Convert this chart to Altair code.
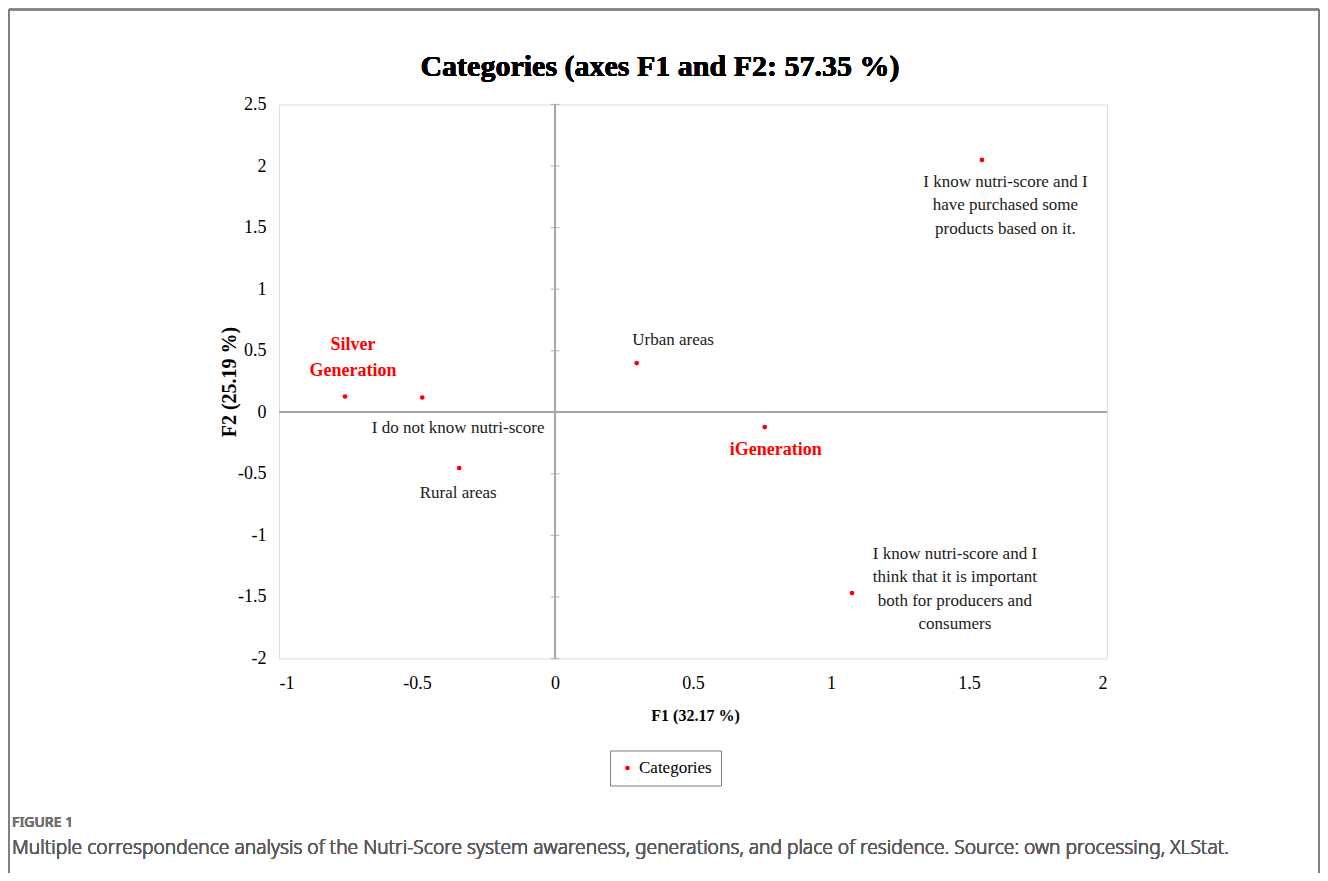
import altair as alt
import pandas as pd

# ---- data ----
categories = [
    "Silver Generation",
    "I do not know nutri-score",
    "Rural areas",
    "Urban areas",
    "iGeneration",
    "I know nutri-score and I have purchased some products based on it.",
    "I know nutri-score and I think that  it is important both for producers and consumers",
]
f1 = [-0.761, -0.481, -0.347, 0.296, 0.760, 1.547, 1.076]
f2 = [0.128, 0.120, -0.453, 0.400, -0.120, 2.050, -1.468]

# label texts (as wrapped in the picture) and the position of their first line (data units)
generation_labels = ["Silver\nGeneration", "iGeneration"]
generation_lx = [-0.732, 0.800]
generation_ly = [0.548, -0.304]

other_labels = [
    "I do not know nutri-score",
    "Rural areas",
    "Urban areas",
    "I know nutri-score and I\nhave purchased some\nproducts based on it.",
    "I know nutri-score and I\nthink that  it is important\nboth for producers and\nconsumers",
]
other_lx = [-0.351, -0.351, 0.428, 1.632, 1.449]
other_ly = [-0.126, -0.653, 0.588, 1.871, -1.149]

x_ticks = [-1, -0.5, 0, 0.5, 1, 1.5, 2]
y_ticks = [-2, -1.5, -1, -0.5, 0, 0.5, 1, 1.5, 2, 2.5]

title_text = "Categories (axes F1 and F2: 57.35 %)"
x_title = "F1 (32.17 %)"
y_title = "F2 (25.19 %)"
caption_head = "FIGURE 1"
caption_text = ("Multiple correspondence analysis of the Nutri-Score system awareness, "
                "generations, and place of residence. Source: own processing, XLStat.")

SERIF = "Liberation Serif"
W, H = 828, 554

pts = pd.DataFrame({"category": categories, "F1": f1, "F2": f2,
                    "series": ["Categories"] * len(categories)})
gen_df = pd.DataFrame({"label": generation_labels, "x": generation_lx, "y": generation_ly})
oth_df = pd.DataFrame({"label": other_labels, "x": other_lx, "y": other_ly})
yt_df = pd.DataFrame({"v": y_ticks})

xscale = alt.Scale(domain=[-1, 2], nice=False, zero=False)
yscale = alt.Scale(domain=[-2, 2.5], nice=False, zero=False)

xaxis = alt.Axis(values=x_ticks, labelExpr="'' + datum.value", grid=False, ticks=False,
                 domain=False, labelFont=SERIF, labelFontSize=18, labelColor="black",
                 labelPadding=16, title=x_title, titleFont=SERIF, titleFontSize=16,
                 titleFontWeight="bold", titleColor="black", titleX=416, titleY=57,
                 titleBaseline="middle", titleAnchor="start", titleAlign="center")
yaxis = alt.Axis(values=y_ticks, labelExpr="'' + datum.value", grid=False, ticks=False,
                 domain=False, labelFont=SERIF, labelFontSize=18, labelColor="black",
                 labelPadding=13, title=y_title, titleFont=SERIF, titleFontSize=20,
                 titleFontWeight="bold", titleColor="black", titleX=-50, titleY=277,
                 titleBaseline="middle", titleAngle=270, titleAnchor="start", titleAlign="center")

base = alt.Chart(pts)

points = base.mark_circle(size=22, opacity=1).encode(
    x=alt.X("F1:Q", scale=xscale, axis=xaxis),
    y=alt.Y("F2:Q", scale=yscale, axis=yaxis),
    color=alt.Color("series:N", scale=alt.Scale(range=["#ff0000"]),
                    legend=alt.Legend(title=None, orient="none", legendX=331, legendY=646,
                                      strokeColor="#7f7f7f", fillColor="white", padding=9,
                                      symbolType="circle", symbolSize=22, labelOffset=3,
                                      labelFont=SERIF, labelFontSize=17, labelColor="black")),
    tooltip=["category:N", "F1:Q", "F2:Q"],
)

vline = alt.Chart(pts).mark_rule(color="#a6a6a6", strokeWidth=1.5).encode(x=alt.datum(0))
hline = alt.Chart(pts).mark_rule(color="#a6a6a6", strokeWidth=1.5).encode(y=alt.datum(0))
vticks = alt.Chart(yt_df).mark_tick(orient="horizontal", size=9, thickness=1.2,
                                    color="#a6a6a6").encode(x=alt.datum(0), y=alt.Y("v:Q"))

gen_text = alt.Chart(gen_df).mark_text(font=SERIF, fontSize=18, fontWeight="bold",
                                       color="#ff0000", lineBreak="\n", lineHeight=26,
                                       align="center", baseline="middle").encode(
    x="x:Q", y="y:Q", text="label:N")
oth_text = alt.Chart(oth_df).mark_text(font=SERIF, fontSize=17, color="#1a1a1a",
                                       lineBreak="\n", lineHeight=23.5,
                                       align="center", baseline="middle").encode(
    x="x:Q", y="y:Q", text="label:N")

title = alt.Chart(pts).mark_text(text=title_text, font=SERIF, fontSize=30, fontWeight="bold",
                                 color="black", align="center", baseline="alphabetic").encode(
    x=alt.value(381), y=alt.value(-29))

cap1 = alt.Chart(pts).mark_text(text=caption_head, font="Noto Sans", fontSize=14,
                                fontWeight=500, color="#707070", align="left",
                                baseline="middle").encode(
    x=alt.value(-267), y=alt.value(718))
cap2 = alt.Chart(pts).mark_text(text=caption_text, font="Noto Sans", fontSize=19.2,
                                fontWeight=300, color="#5a5a5a", align="left",
                                baseline="middle").encode(
    x=alt.value(-267), y=alt.value(743))

frame_l = alt.Chart(pts).mark_rule(color="#808080", strokeWidth=1.5).encode(
    x=alt.value(-270), y=alt.value(-95), y2=alt.value(H + 215))
frame_t = alt.Chart(pts).mark_rule(color="#808080", strokeWidth=1.5).encode(
    x=alt.value(-270), x2=alt.value(1040), y=alt.value(-95))
frame_r = alt.Chart(pts).mark_rule(color="#808080", strokeWidth=1.5).encode(
    x=alt.value(1040), y=alt.value(-95), y2=alt.value(H + 215))

chart = alt.layer(
    frame_l, frame_t, frame_r, vline, hline, vticks, points, gen_text, oth_text,
    title, cap1, cap2,
).properties(
    width=W, height=H,
    autosize=alt.AutoSizeParams(type="none"),
    padding={"left": 271, "top": 96.5, "right": 213, "bottom": 214.5},
).configure_view(stroke="#bfbfbf", strokeWidth=1.5).configure(background="white")

chart.save("out.html", embed_options={"renderer": "svg", "actions": False})
